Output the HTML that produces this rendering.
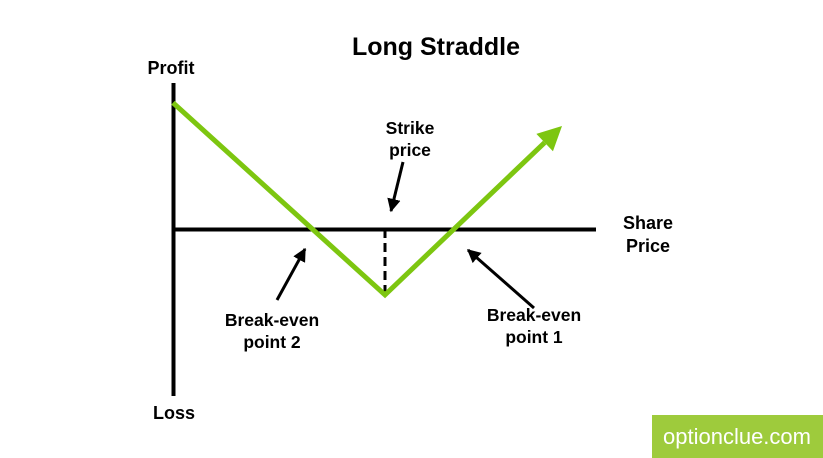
<!DOCTYPE html>
<html><head><meta charset="utf-8"><style>
body{margin:0;background:#fff;width:823px;height:458px;overflow:hidden;font-family:"Liberation Sans",sans-serif}
svg{position:absolute;left:0;top:0}
.b{font-weight:bold;fill:#000}
</style></head><body>
<svg width="823" height="458">
<defs><marker id="ah" viewBox="0 0 10 10" refX="9" refY="5" markerWidth="4.5" markerHeight="4.5" orient="auto"><path d="M0,0L10,5L0,10z" fill="#000"/></marker></defs>
<text x="436" y="55" text-anchor="middle" class="b" font-size="25">Long Straddle</text>
<text x="171" y="74" text-anchor="middle" class="b" font-size="18">Profit</text>
<text x="174" y="419" text-anchor="middle" class="b" font-size="18">Loss</text>
<text x="648" y="229" text-anchor="middle" class="b" font-size="18"><tspan x="648">Share</tspan><tspan x="648" dy="23">Price</tspan></text>
<line x1="173.5" y1="83" x2="173.5" y2="396" stroke="#000" stroke-width="4"/>
<line x1="173" y1="229.5" x2="596" y2="229.5" stroke="#000" stroke-width="4"/>
<g id="plot"></g>
<text x="410" y="134" text-anchor="middle" class="b" font-size="17.5"><tspan x="410">Strike</tspan><tspan x="410" dy="22">price</tspan></text>
<line x1="403" y1="162" x2="391" y2="211" stroke="#000" stroke-width="3" marker-end="url(#ah)"/>
<text x="272" y="326" text-anchor="middle" class="b" font-size="17.5"><tspan x="272">Break-even</tspan><tspan x="272" dy="22">point 2</tspan></text>
<line x1="277" y1="300" x2="305" y2="249" stroke="#000" stroke-width="3" marker-end="url(#ah)"/>
<text x="534" y="321" text-anchor="middle" class="b" font-size="17.5"><tspan x="534">Break-even</tspan><tspan x="534" dy="22">point 1</tspan></text>
<line x1="534" y1="308" x2="468" y2="250" stroke="#000" stroke-width="3" marker-end="url(#ah)"/>
<rect x="652" y="415" width="171" height="43" fill="#9ECB3C"/>
<text x="737" y="444" text-anchor="middle" font-size="22" fill="#fff">optionclue.com</text>
</svg>
<script>
const prices=[0,10,18.35];
const profits=[6.9,-3.6,5.63];
const strike=[10];
const sx=v=>173+v*21.2;
const sy=v=>229-v*18.3;
const g=document.getElementById('plot');
const ns='http://www.w3.org/2000/svg';
const dl=document.createElementNS(ns,'line');


dl.setAttribute('x1',sx(strike[0]));dl.setAttribute('x2',sx(strike[0]));
dl.setAttribute('y1',sy(0));dl.setAttribute('y2',sy(profits[1]));
dl.setAttribute('stroke','#000');dl.setAttribute('stroke-width','3');dl.setAttribute('stroke-dasharray','9,5');
g.appendChild(dl);
const p=document.createElementNS(ns,'polyline');


const pts=prices.map((v,i)=>[sx(v),sy(profits[i])]);
const n=pts.length-1,dx=pts[n][0]-pts[n-1][0],dy=pts[n][1]-pts[n-1][1],L=Math.hypot(dx,dy);
const tip=pts[n],base=[tip[0]-dx/L*24,tip[1]-dy/L*24];
const lp=pts.slice(0,n).concat([base]);
p.setAttribute('points',lp.map(q=>q.join(',')).join(' '));
p.setAttribute('fill','none');p.setAttribute('stroke','#7DC610');p.setAttribute('stroke-width','5');p.setAttribute('stroke-linejoin','miter');
g.appendChild(p);
const ux=dx/L,uy=dy/L,px=-uy,py=ux;
const ah=document.createElementNS(ns,'polygon');


ah.setAttribute('points',[tip,[base[0]+px*12,base[1]+py*12],[base[0]-px*12,base[1]-py*12]].map(q=>q.join(',')).join(' '));
ah.setAttribute('fill','#7DC610');
g.appendChild(ah);
</script>
</body></html>
